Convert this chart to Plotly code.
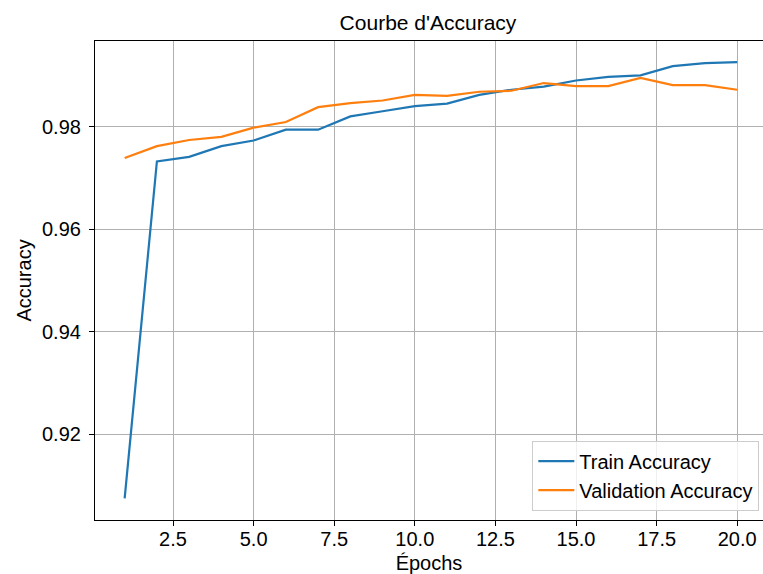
import plotly.graph_objects as go

epochs = list(range(1, 21))
train_acc = [0.9075, 0.9732, 0.9741, 0.9762, 0.9773, 0.9794, 0.9794, 0.9820, 0.9830, 0.9840,
             0.9845, 0.9862, 0.9872, 0.9878, 0.9890, 0.9897, 0.9900, 0.9918, 0.9924, 0.9926]
val_acc = [0.9739, 0.9762, 0.9774, 0.9780, 0.9798, 0.9809, 0.9838, 0.9846, 0.9851, 0.9862,
           0.9860, 0.9868, 0.9870, 0.9885, 0.9879, 0.9879, 0.9895, 0.9881, 0.9881, 0.9872]
x_ticks = [2.5, 5.0, 7.5, 10.0, 12.5, 15.0, 17.5, 20.0]
y_ticks = [0.92, 0.94, 0.96, 0.98]

FONT = "Liberation Sans, Arial, sans-serif"

fig = go.Figure()
fig.add_trace(go.Scatter(x=epochs, y=train_acc, mode="lines", name="Train Accuracy",
                         line=dict(color="#1f77b4", width=2.2)))
fig.add_trace(go.Scatter(x=epochs, y=val_acc, mode="lines", name="Validation Accuracy",
                         line=dict(color="#ff7f0e", width=2.2)))

fig.update_layout(
    width=763, height=574,
    margin=dict(l=95, r=0, t=41, b=54),
    paper_bgcolor="white", plot_bgcolor="white",
    font=dict(family=FONT, size=20, color="black"),
    title=dict(text="Courbe d'Accuracy", x=428 / 763, xanchor="center",
               y=1 - 23 / 574, yanchor="middle", yref="container",
               font=dict(size=21, color="black")),
    legend=dict(x=0.9945, y=0.0194, xanchor="right", yanchor="bottom",
                bgcolor="rgba(255,255,255,0.8)", bordercolor="#cccccc", borderwidth=1,
                font=dict(size=20), tracegroupgap=0, itemwidth=36),
    showlegend=True,
)
fig.update_xaxes(
    range=[0.08, 20.8], tickvals=x_ticks, tickformat=".1f",
    showgrid=True, gridcolor="#b0b0b0", gridwidth=1,
    showline=True, linecolor="black", linewidth=1.2, mirror=True,
    ticks="outside", ticklen=5, tickcolor="black", zeroline=False,
    ticklabelstandoff=-4,
    title=dict(text="Épochs", standoff=8, font=dict(size=20)),
    tickfont=dict(size=20),
)
fig.update_yaxes(
    range=[0.9033, 0.9967], tickvals=y_ticks, tickformat=".2f",
    showgrid=True, gridcolor="#b0b0b0", gridwidth=1,
    showline=True, linecolor="black", linewidth=1.2, mirror=False,
    ticks="outside", ticklen=5, tickcolor="black", zeroline=False,
    ticklabelstandoff=4,
    title=dict(text="Accuracy", standoff=4, font=dict(size=20)),
    tickfont=dict(size=20),
)

fig.write_html("out.html")
